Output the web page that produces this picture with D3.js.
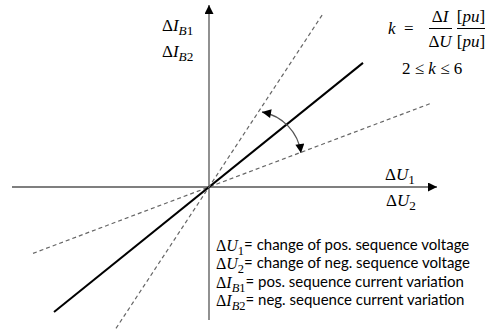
<!DOCTYPE html>
<html>
<head>
<meta charset="utf-8">
<script src="https://cdn.jsdelivr.net/npm/d3@7"></script>
<style>
  html, body { margin: 0; padding: 0; background: #fff; }
  svg { display: block; }
  .math { font-family: "Liberation Serif", "DejaVu Serif", serif; }
  .txt { font-family: Lato, "Open Sans", sans-serif; }
</style>
</head>
<body>
<svg id="chart" width="501" height="331"></svg>
<script>
// characteristic lines through the origin: slope and x-extent (axis units)
const lineNames  = ["kMin", "kRef", "kMax"];
const lineSlopes = [0.377, 0.806, 1.52];
const lineFrom   = [-1.76, -1.55, -0.93];
const lineTo     = [2.23, 1.54, 1.14];
const lineDashed = [true, false, true];

// legend entries: symbol, subscript, description
const legendSym  = ["U", "U", "I", "I"];
const legendSub  = ["1", "2", "B1", "B2"];
const legendText = [
  "change of pos. sequence voltage",
  "change of neg. sequence voltage",
  "pos. sequence current variation",
  "neg. sequence current variation"
];

// axis extents
const xDomain = [-1.97, 2.28];
const yDomain = [-1.33, 1.82];

const svg = d3.select("#chart");
const x = d3.scaleLinear().domain(xDomain).range([12, 437]);
const y = d3.scaleLinear().domain(yDomain).range([320, 5]);

const defs = svg.append("defs");
defs.append("marker")
  .attr("id", "axisHead").attr("viewBox", "0 0 10 10")
  .attr("refX", 10).attr("refY", 5)
  .attr("markerUnits", "userSpaceOnUse")
  .attr("markerWidth", 10).attr("markerHeight", 9)
  .attr("orient", "auto")
  .append("path").attr("d", "M0,0L10,5L0,10Z").attr("fill", "#000");
defs.append("marker")
  .attr("id", "arcHead").attr("viewBox", "0 0 10 10")
  .attr("refX", 10).attr("refY", 5)
  .attr("markerUnits", "userSpaceOnUse")
  .attr("markerWidth", 11).attr("markerHeight", 9)
  .attr("orient", "auto-start-reverse")
  .append("path").attr("d", "M0,0L10,5L0,10Z").attr("fill", "#000");

// axes
svg.append("line")
  .attr("x1", x(xDomain[0])).attr("y1", y(0))
  .attr("x2", x(xDomain[1])).attr("y2", y(0))
  .attr("stroke", "#555").attr("stroke-width", 1.3)
  .attr("marker-end", "url(#axisHead)");
svg.append("line")
  .attr("x1", x(0)).attr("y1", y(yDomain[0]))
  .attr("x2", x(0)).attr("y2", y(yDomain[1]))
  .attr("stroke", "#555").attr("stroke-width", 1.3)
  .attr("marker-end", "url(#axisHead)");

// characteristic lines
const lines = lineNames.map((n, i) => ({
  name: n, slope: lineSlopes[i], from: lineFrom[i], to: lineTo[i], dashed: lineDashed[i]
}));
svg.selectAll("line.char").data(lines).join("line")
  .attr("class", "char")
  .attr("x1", d => x(d.from)).attr("y1", d => y(d.slope * d.from))
  .attr("x2", d => x(d.to)).attr("y2", d => y(d.slope * d.to))
  .attr("stroke", d => d.dashed ? "#666" : "#000")
  .attr("stroke-width", d => d.dashed ? 1.2 : 2)
  .attr("stroke-dasharray", d => d.dashed ? "4,3" : null);

// double-headed arc between the limits
const arcStart = [0.53, 0.75], arcEnd = [0.92, 0.34], arcR = 48;
svg.append("path")
  .attr("d", `M${x(arcStart[0])},${y(arcStart[1])} A${arcR},${arcR} 0 0 1 ${x(arcEnd[0])},${y(arcEnd[1])}`)
  .attr("fill", "none").attr("stroke", "#555").attr("stroke-width", 1.3)
  .attr("marker-start", "url(#arcHead)").attr("marker-end", "url(#arcHead)");

// math label helper: Δ + italic symbol + subscript
function mathLabel(g, px, py, sym, sub, size) {
  const t = g.append("text").attr("class", "math").attr("x", px).attr("y", py)
    .attr("font-size", size).attr("fill", "#000");
  t.append("tspan").text("Δ");
  t.append("tspan").attr("font-style", "italic").text(sym);
  if (sub) {
    const letters = sub.replace(/[0-9]/g, "");
    const digits = sub.replace(/[^0-9]/g, "");
    const s = t.append("tspan").attr("dy", size * 0.25).attr("font-size", size * 0.78);
    if (letters) s.append("tspan").attr("font-style", "italic").text(letters);
    s.append("tspan").text(digits);
  }
  return t;
}

// axis labels
mathLabel(svg, 162, 31, "I", "B1", 17);
mathLabel(svg, 162, 57, "I", "B2", 17);
mathLabel(svg, 385, 180, "U", "1", 17);
mathLabel(svg, 386, 206, "U", "2", 17);

// formula for k
const fm = svg.append("g").attr("class", "math").attr("font-size", 17);
fm.append("text").attr("x", 388).attr("y", 34).attr("font-style", "italic").text("k");
fm.append("text").attr("x", 404).attr("y", 34).text("=");
fm.append("text").attr("x", 440).attr("y", 22).attr("text-anchor", "middle")
  .html('Δ<tspan font-style="italic">I</tspan>');
fm.append("text").attr("x", 440).attr("y", 47).attr("text-anchor", "middle")
  .html('Δ<tspan font-style="italic">U</tspan>');
fm.append("line").attr("x1", 429).attr("x2", 452).attr("y1", 28.5).attr("y2", 28.5)
  .attr("stroke", "#000").attr("stroke-width", 1);
fm.append("text").attr("x", 471).attr("y", 22).attr("text-anchor", "middle")
  .html('[<tspan font-style="italic">pu</tspan>]');
fm.append("text").attr("x", 471).attr("y", 47).attr("text-anchor", "middle")
  .html('[<tspan font-style="italic">pu</tspan>]');
fm.append("line").attr("x1", 457).attr("x2", 485).attr("y1", 28.5).attr("y2", 28.5)
  .attr("stroke", "#000").attr("stroke-width", 1);
fm.append("text").attr("x", 402).attr("y", 74)
  .html('2 ≤ <tspan font-style="italic">k</tspan> ≤ 6');

// legend
const lg = svg.append("g");
const legendY = [251, 269, 288, 306];
legendSym.forEach((s, i) => {
  const t = mathLabel(lg, 216, legendY[i], s, legendSub[i], 16);
  const w = t.node().getComputedTextLength();
  lg.append("text").attr("class", "txt").attr("x", 216 + w).attr("y", legendY[i] - 1)
    .attr("font-size", 15).attr("fill", "#000")
    .text("= " + legendText[i]);
});
</script>
</body>
</html>
